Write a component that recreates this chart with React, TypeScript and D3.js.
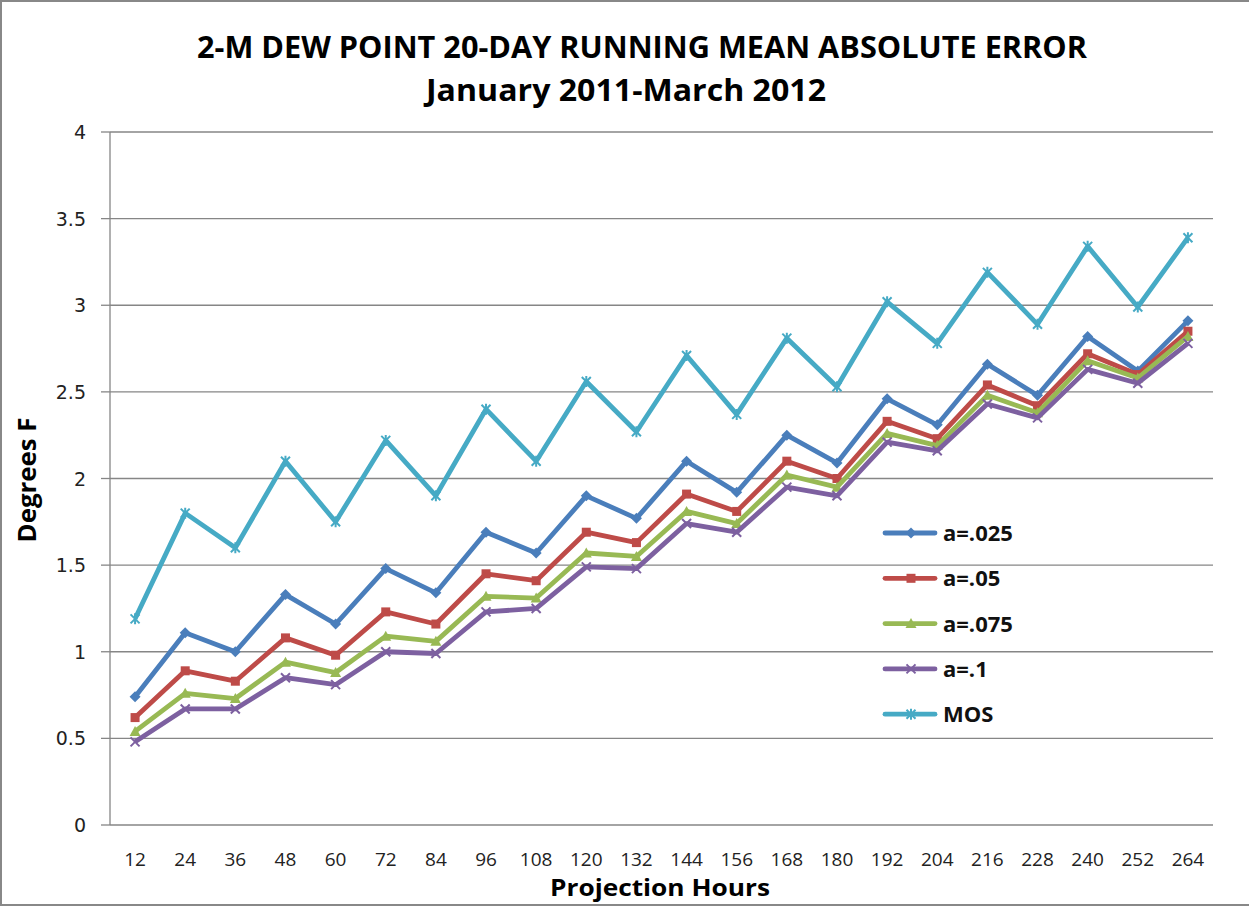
import React from "react";
import * as d3 from "d3";

const hours = [12, 24, 36, 48, 60, 72, 84, 96, 108, 120, 132, 144, 156, 168, 180, 192, 204, 216, 228, 240, 252, 264];
const a025 = [0.74, 1.11, 1.0, 1.33, 1.16, 1.48, 1.34, 1.69, 1.57, 1.9, 1.77, 2.1, 1.92, 2.25, 2.09, 2.46, 2.31, 2.66, 2.48, 2.82, 2.62, 2.91];
const a05 = [0.62, 0.89, 0.83, 1.08, 0.98, 1.23, 1.16, 1.45, 1.41, 1.69, 1.63, 1.91, 1.81, 2.1, 2.0, 2.33, 2.23, 2.54, 2.42, 2.72, 2.6, 2.85];
const a075 = [0.54, 0.76, 0.73, 0.94, 0.88, 1.09, 1.06, 1.32, 1.31, 1.57, 1.55, 1.81, 1.74, 2.02, 1.95, 2.26, 2.19, 2.48, 2.38, 2.68, 2.58, 2.82];
const a1 = [0.48, 0.67, 0.67, 0.85, 0.81, 1.0, 0.99, 1.23, 1.25, 1.49, 1.48, 1.74, 1.69, 1.95, 1.9, 2.21, 2.16, 2.43, 2.35, 2.63, 2.55, 2.78];
const mos = [1.19, 1.8, 1.6, 2.1, 1.75, 2.22, 1.9, 2.4, 2.1, 2.56, 2.27, 2.71, 2.37, 2.81, 2.53, 3.02, 2.78, 3.19, 2.89, 3.34, 2.99, 3.39];
const yTicks = [0, 0.5, 1, 1.5, 2, 2.5, 3, 3.5, 4];
const yTickLabels = ["0", "0.5", "1", "1.5", "2", "2.5", "3", "3.5", "4"];

const seriesNames = ["a=.025", "a=.05", "a=.075", "a=.1", "MOS"];
const seriesValues = [a025, a05, a075, a1, mos];
const seriesColors = ["#4A7EBB", "#BE4B48", "#98B954", "#7D60A0", "#46AAC5"];
const seriesMarkers = ["diamond", "square", "triangle", "x", "star"];

const W = 1249;
const H = 909;
const left = 110;
const right = 1213;
const top = 132;
const bottom = 825;

function Marker({ type, x, y, color }: { type: string; x: number; y: number; color: string }) {
  const s = 4.5;
  if (type === "diamond") {
    return <path d={`M${x},${y - s - 1}L${x + s + 1},${y}L${x},${y + s + 1}L${x - s - 1},${y}Z`} fill={color} />;
  }
  if (type === "square") {
    return <rect x={x - s} y={y - s} width={2 * s} height={2 * s} fill={color} />;
  }
  if (type === "triangle") {
    return <path d={`M${x},${y - s - 1}L${x + s + 1},${y + s}L${x - s - 1},${y + s}Z`} fill={color} />;
  }
  if (type === "x") {
    return (
      <path d={`M${x - s},${y - s}L${x + s},${y + s}M${x - s},${y + s}L${x + s},${y - s}`} stroke={color} strokeWidth={2} />
    );
  }
  return (
    <path
      d={`M${x - s},${y - s}L${x + s},${y + s}M${x - s},${y + s}L${x + s},${y - s}M${x},${y - s - 1}L${x},${y + s + 1}`}
      stroke={color}
      strokeWidth={2}
    />
  );
}

export default function App() {
  const x = d3
    .scaleBand<number>()
    .domain(hours)
    .range([left, right])
    .paddingInner(0)
    .paddingOuter(0);
  const y = d3.scaleLinear().domain([0, 4]).range([bottom, top]);
  const cx = (h: number) => (x(h) as number) + x.bandwidth() / 2;
  const line = d3
    .line<number>()
    .x((_, i) => cx(hours[i]))
    .y((v) => y(v));

  const font = "'Liberation Sans Narrow', 'Open Sans', Arial, sans-serif";
  const legendX = 885;
  const legendY0 = 533;
  const legendStep = 45.3;

  return (
    <svg width={W} height={H} style={{ position: "absolute", left: 0, top: 0, background: "#fff" }}>
      <rect x={1} y={1} width={W + 10} height={H - 5} fill="#fff" stroke="#888" strokeWidth={2} />
      <text x={642} y={58} textAnchor="middle" fontFamily={font} fontWeight="bold" fontSize={31} textLength={890} lengthAdjust="spacingAndGlyphs">
        2-M DEW POINT 20-DAY RUNNING MEAN ABSOLUTE ERROR
      </text>
      <text x={626} y={101} textAnchor="middle" fontFamily={font} fontWeight="bold" fontSize={31} textLength={400} lengthAdjust="spacingAndGlyphs">
        January 2011-March 2012
      </text>
      {yTicks.map((t, i) => (
        <g key={t}>
          {t > 0 && <line x1={left} x2={right} y1={y(t)} y2={y(t)} stroke="#868686" strokeWidth={1.3} />}
          <line x1={left - 9} x2={left} y1={y(t)} y2={y(t)} stroke="#868686" strokeWidth={1.3} />
          <text x={86} y={y(t) + 7} textAnchor="end" fontFamily="'DejaVu Sans', sans-serif" fontSize={19} fill="#222">
            {yTickLabels[i]}
          </text>
        </g>
      ))}
      <line x1={left} x2={left} y1={top} y2={bottom} stroke="#868686" strokeWidth={1.3} />
      <line x1={left} x2={right} y1={bottom} y2={bottom} stroke="#868686" strokeWidth={1.3} />
      {hours.map((h) => (
        <text key={h} x={cx(h)} y={866} textAnchor="middle" fontFamily={font} fontSize={19} fill="#222">
          {h}
        </text>
      ))}
      <text x={660} y={896} textAnchor="middle" fontFamily={font} fontWeight="bold" fontSize={24} textLength={220} lengthAdjust="spacingAndGlyphs">
        Projection Hours
      </text>
      <text transform="translate(36,480) rotate(-90)" textAnchor="middle" fontFamily={font} fontWeight="bold" fontSize={25} textLength={125} lengthAdjust="spacingAndGlyphs">
        Degrees F
      </text>
      {seriesValues.map((vals, si) => (
        <g key={seriesNames[si]}>
          <path d={line(vals) || ""} fill="none" stroke={seriesColors[si]} strokeWidth={4.8} strokeLinejoin="round" />
          {vals.map((v, i) => (
            <Marker key={i} type={seriesMarkers[si]} x={cx(hours[i])} y={y(v)} color={seriesColors[si]} />
          ))}
        </g>
      ))}
      {seriesNames.map((n, si) => {
        const ly = legendY0 + si * legendStep;
        return (
          <g key={n}>
            <line x1={legendX} x2={legendX + 50} y1={ly} y2={ly} stroke={seriesColors[si]} strokeWidth={4.8} strokeLinecap="round" />
            <Marker type={seriesMarkers[si]} x={legendX + 26} y={ly} color={seriesColors[si]} />
            <text x={legendX + 58} y={ly + 8} fontFamily={font} fontWeight="bold" fontSize={22} fill="#111">
              {n}
            </text>
          </g>
        );
      })}
    </svg>
  );
}
